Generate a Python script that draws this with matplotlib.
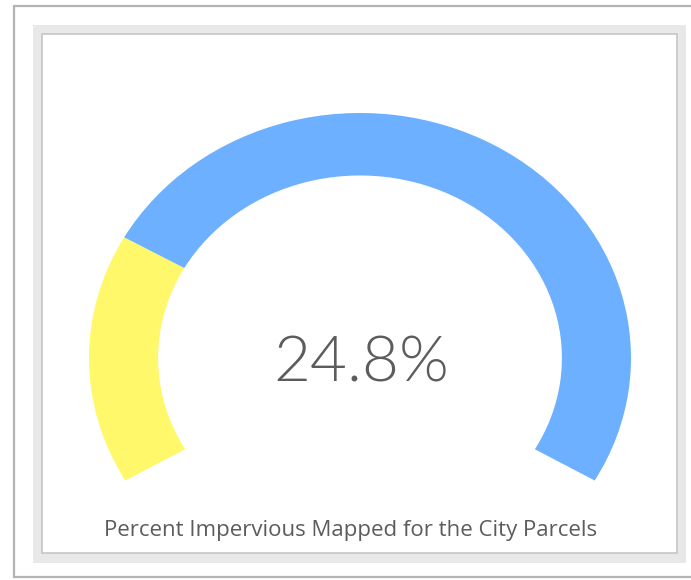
import matplotlib
matplotlib.use("Agg")
import matplotlib.pyplot as plt
from matplotlib.patches import Rectangle, Wedge

# gauge data
value = 24.8
max_value = 100.0
label = "24.8%"
caption = "Percent Impervious Mapped for the City Parcels"
fill_color = "#fff86b"
rest_color = "#6cb0ff"

start_angle = 210.0
sweep = 240.0

W, H = 691, 580
fig = plt.figure(figsize=(W / 100, H / 100), dpi=100)

# background frame, pixel coordinates
bg = fig.add_axes([0, 0, 1, 1])
bg.set_xlim(0, W)
bg.set_ylim(H, 0)
bg.axis("off")
bg.add_patch(Rectangle((14, 6), W, 571, facecolor="white",
                       edgecolor="#b4b4b4", lw=1.6))
bg.add_patch(Rectangle((33, 25), 653, 538, facecolor="#e8e8e8",
                       edgecolor="none"))
bg.add_patch(Rectangle((42, 34), 635, 519, facecolor="white",
                       edgecolor="#c6c6c6", lw=1.2))

# gauge axes: stretched so the arc comes out slightly elliptical
cx, cy, rx, ry = 360, 358, 271, 245
ax = fig.add_axes([(cx - rx) / W, (H - cy - ry) / H, 2 * rx / W, 2 * ry / H])
ax.set_xlim(-1, 1)
ax.set_ylim(-1, 1)
ax.axis("off")

split = start_angle - sweep * value / max_value
end = start_angle - sweep
ax.add_patch(Wedge((0, 0), 1.0, split, start_angle, width=0.255,
                   facecolor=fill_color, edgecolor="none"))
ax.add_patch(Wedge((0, 0), 1.0, end, split, width=0.255,
                   facecolor=rest_color, edgecolor="none"))

bg.text(cx + 1, 382, label, ha="center", va="baseline", fontsize=46,
        family="Lato", weight=300, color="#5c5c5c")
bg.text(351, 536, caption, ha="center", va="baseline", fontsize=16,
        family="Open Sans", color="#5c5c5c")

fig.savefig("out.png", dpi=100)
